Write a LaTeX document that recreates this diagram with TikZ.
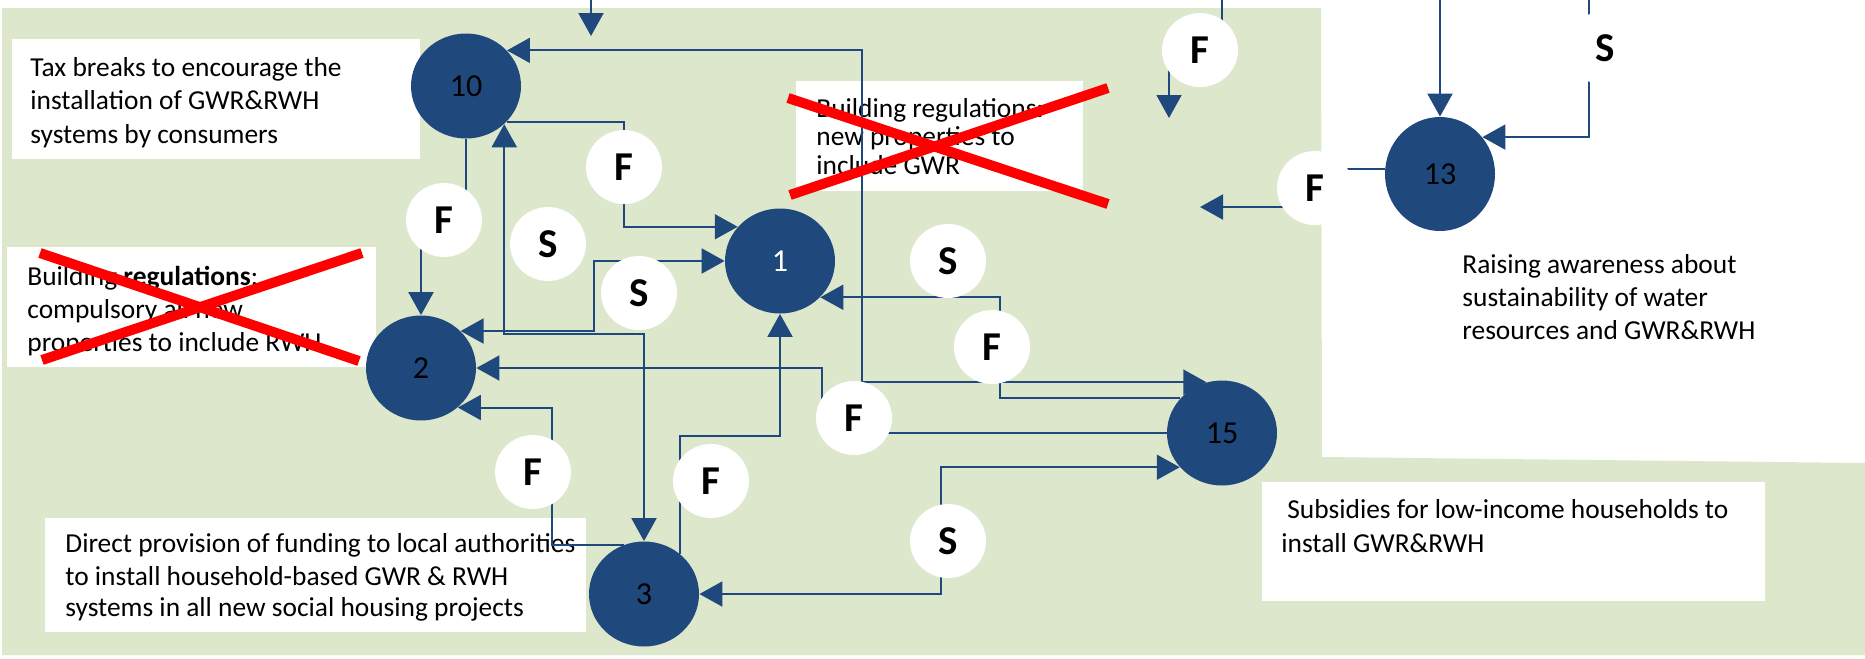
\documentclass[tikz,border=0pt]{standalone}
\usepackage{fontspec}
\setmainfont{Carlito}
\usetikzlibrary{arrows.meta,shapes.geometric}
\definecolor{bggreen}{RGB}{221,231,203}
\definecolor{nblue}{RGB}{31,73,125}
\definecolor{xred}{RGB}{255,0,0}
\begin{document}
\begin{tikzpicture}[x=0.5pt,y=-0.5pt,
  bignode/.style={ellipse, fill=nblue, minimum width=55pt, minimum height=52.5pt, inner sep=0pt, font=\fontsize{16}{18}\selectfont, text=black},
  bubble/.style={ellipse, fill=white, minimum width=38pt, minimum height=37pt, inner sep=0pt, font=\fontsize{20.5}{22}\selectfont\bfseries},
  conn/.style={draw=nblue, line width=1pt},
  onearrow/.style={-{Triangle[length=11.5pt,width=12.5pt]}},
  twoarrow/.style={{Triangle[length=11.5pt,width=12.5pt]}-{Triangle[length=11.5pt,width=12.5pt]}},
  txt/.style={anchor=base west, inner sep=0pt, font=\fontsize{13.7}{16}\selectfont},
  redx/.style={draw=xred, line width=5pt},
]
\useasboundingbox (0,0) rectangle (1865,659);
% background
\fill[white] (0,0) rectangle (1865,659);
\fill[bggreen] (2,8) -- (1321,8) -- (1322,457) -- (1865,463) -- (1865,655) -- (2,655) -- cycle;
% white boxes
\fill[white] (12,39) rectangle (420,159);
\fill[white] (7,247) rectangle (376,367);
\fill[white] (796,81) rectangle (1083,191);
\fill[white] (45,518) rectangle (586,632);
\fill[white] (1262,482) rectangle (1765,601);
% texts
\node[txt] (t10a) at (30,76) {Tax breaks to encourage the};
\node[txt] (t10b) at (30,109) {installation of GWR\&RWH};
\node[txt] (t10c) at (30,143) {systems by consumers};
\node[txt] (t2a) at (27,285) {Building \textbf{regulations}:};
\node[txt] (t2b) at (27,318) {compulsory all new};
\node[txt] (t2c) at (27,351) {properties to include RWH};
\node[txt] (t1a) at (816,117) {Building regulations:};
\node[txt] (t1b) at (816,145.5) {new properties to};
\node[txt] (t1c) at (816,174) {include GWR};
\node[txt] (t13a) at (1462,273) {Raising awareness about};
\node[txt] (t13b) at (1462,306) {sustainability of water};
\node[txt] (t13c) at (1462,339) {resources and GWR\&RWH};
\node[txt] (t15a) at (1287,518) {Subsidies for low-income households to};
\node[txt] (t15b) at (1281,552) {install GWR\&RWH};
\node[txt] (t3a) at (65,552) {Direct provision of funding to local authorities};
\node[txt] (t3b) at (65,585) {to install household-based GWR \& RWH};
\node[txt] (t3c) at (65,616) {systems in all new social housing projects};
% main nodes
\node[bignode] (n10) at (466,86) {10};
\node[bignode] (n2) at (421,368) {2};
\node[bignode,text=white] (n1) at (780,261) {1};
\node[bignode] (n3) at (644,594) {3};
\node[bignode] (n15) at (1222,433) {15};
\node[bignode,minimum height=57pt] (n13) at (1440,174) {13};
% bubble centres
\coordinate (cF1) at (624,167);
\coordinate (cF2) at (444,220);
\coordinate (cS1) at (548,244);
\coordinate (cS2) at (639,293);
\coordinate (cS3) at (948,261);
\coordinate (cF3) at (992,347);
\coordinate (cF4) at (1200,50);
\coordinate (cF5) at (1315,188);
\coordinate (cS4) at (1605,48);
\coordinate (cF6) at (533,472);
\coordinate (cF7) at (711,481);
\coordinate (cF8) at (854,418);
\coordinate (cS5) at (948,541);
% routing coordinates
\coordinate (a0) at (591,0); \coordinate (a1) at (591,36);
\coordinate (b1) at (862,0);
\coordinate (d1) at (0,333.5);
\coordinate (e1) at (593.5,0);
\coordinate (f1) at (822,0);
\coordinate (g1) at (552,0);
\coordinate (i1) at (0,436);
\coordinate (j1) at (941,0);
\coordinate (k1) at (1000,0);
\coordinate (o1) at (624,0);
\coordinate (q1) at (1315,0); \coordinate (q2) at (1200,207);
\coordinate (l0) at (1222,0); \coordinate (l1) at (1169,118);
\coordinate (m0) at (1440,0);
\coordinate (s0) at (1589,0);
% connectors
\draw[conn,onearrow] (a0) -- (a1);
\draw[conn,twoarrow] (n10.41) -- (b1 |- n10.41) -- (b1 |- n15.107) -- (n15.107);
\draw[conn,onearrow] (n10.south) -- (n10.south |- cF2) -- (n2.north |- cF2) -- (n2.north);
\draw[conn,twoarrow] (n10.-45) -- (n10.-45 |- d1) -- (n3.north |- d1) -- (n3.north);
\draw[conn,twoarrow] (n2.43) -- (e1 |- n2.43) -- (e1 |- n1.west) -- (n1.west);
\draw[conn,onearrow] (n15.west) -- (f1 |- n15.west) -- (f1 |- n2.east) -- (n2.east);
\draw[conn,onearrow] (n3.112) -- (g1 |- n3.112) -- (g1 |- n2.-47) -- (n2.-47);
\draw[conn,onearrow] (n3.48) -- (n3.48 |- i1) -- (n1.south |- i1) -- (n1.south);
\draw[conn,twoarrow] (n3.east) -- (j1 |- n3.east) -- (j1 |- n15.-141) -- (n15.-141);
\draw[conn,onearrow] (n10.-41) -- (o1 |- n10.-41) -- (o1 |- n1.141) -- (n1.141);
\draw[conn,onearrow] (n15.140) -- (k1 |- n15.140) -- (k1 |- n1.-42) -- (n1.-42);
\draw[conn,onearrow] (n13.175) -- (q1 |- n13.175) -- (q1 |- q2) -- (q2);
\draw[conn,onearrow] (l0) -- (l0 |- cF4) -- (l1 |- cF4) -- (l1);
\draw[conn,onearrow] (m0) -- (n13.north);
\draw[conn,onearrow] (s0) -- (s0 |- n13.41) -- (n13.41);
% bubbles
\node[bubble] (bF1) at (cF1) {F};
\node[bubble] (bF2) at (cF2) {F};
\node[bubble] (bS1) at (cS1) {S};
\node[bubble] (bS2) at (cS2) {S};
\node[bubble] (bS3) at (cS3) {S};
\node[bubble] (bF3) at (cF3) {F};
\node[bubble] (bF4) at (cF4) {F};
\node[bubble] (bF5) at (cF5) {F};
\node[bubble] (bS4) at (cS4) {S};
\node[bubble] (bF6) at (cF6) {F};
\node[bubble] (bF7) at (cF7) {F};
\node[bubble] (bF8) at (cF8) {F};
\node[bubble] (bS5) at (cS5) {S};
% red crosses
\draw[redx] (40,253) -- (359,361);
\draw[redx] (42,360) -- (362,253);
\draw[redx] (788,98) -- (1108,204);
\draw[redx] (790,195) -- (1108,88);
\end{tikzpicture}
\end{document}
